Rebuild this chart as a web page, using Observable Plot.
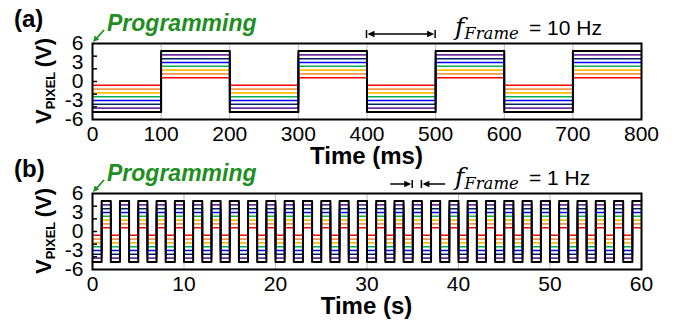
<!DOCTYPE html>
<html><head><meta charset="utf-8">
<script src="https://cdn.jsdelivr.net/npm/d3@7"></script>
<script src="https://cdn.jsdelivr.net/npm/@observablehq/plot@0.6"></script>
<style>
body{margin:0;background:#fff;}
#fig{position:relative;width:674px;height:328px;overflow:hidden;background:#fff;}
#fig svg{position:absolute;left:0;overflow:visible;background:transparent;}
</style></head><body><div id="fig"></div><script>
// Pixel voltage levels (V) and their colours (drawn as +/- pairs)
const levels = [0.6, 1.2, 1.8, 2.4, 3.0, 3.6, 4.2, 4.8];
const levelColors = ["#ff0000", "#f79646", "#ffc000", "#00b050", "#0000ff", "#002060", "#7030a0", "#000000"];

// Panel (a): 10 Hz frame, polarity switches (ms)
const switchTimesA = [0, 100, 200, 300, 400, 500, 600, 700, 800];
const polarityA = [-1, 1, -1, 1, -1, 1, -1, 1];
const xTicksA = [0, 100, 200, 300, 400, 500, 600, 700, 800];

// Panel (b): 1 Hz frame, polarity switches (s)
const switchTimesB = [0,1,2,3,4,5,6,7,8,9,10,11,12,13,14,15,16,17,18,19,20,21,22,23,24,25,26,27,28,29,30,
  31,32,33,34,35,36,37,38,39,40,41,42,43,44,45,46,47,48,49,50,51,52,53,54,55,56,57,58,59,60];
const polarityB = [-1,1,-1,1,-1,1,-1,1,-1,1,-1,1,-1,1,-1,1,-1,1,-1,1,-1,1,-1,1,-1,1,-1,1,-1,1,
  -1,1,-1,1,-1,1,-1,1,-1,1,-1,1,-1,1,-1,1,-1,1,-1,1,-1,1,-1,1,-1,1,-1,1,-1,1];
const xTicksB = [0, 10, 20, 30, 40, 50, 60];

const yTickLabels = [-6, -3, 0, 3, 6];
const yTickMarks = [-4, -2, 0, 2, 4];

// Frame-period annotations (data units)
const periodA = [400, 500];
const periodB = [35, 36];
const periodBTails = [32.6, 38.6];

const FONT = "'Liberation Sans', Arial, sans-serif";
const GREEN = "#1f8f1f";

function buildRows(times, pol) {
  const rows = [];
  levels.forEach((v, li) => {
    for (let k = 0; k < pol.length; k++) {
      rows.push({t: times[k], v: pol[k] * v, level: v, order: li});
      rows.push({t: times[k + 1], v: pol[k] * v, level: v, order: li});
    }
  });
  return rows;
}

function panel(times, pol, xDomain, xTicks, height, marginBottom) {
  const rows = buildRows(times, pol);
  const blackLevel = levels[levels.length - 1];
  return Plot.plot({
    width: 674, height,
    marginLeft: 92, marginRight: 33, marginTop: 43, marginBottom,
    x: {domain: xDomain},
    y: {domain: [-6, 6]},
    color: {domain: levels, range: levelColors},
    style: {fontFamily: FONT, background: "transparent", color: "black"},
    marks: [
      Plot.gridX(xTicks, {stroke: "#bdbdbd", strokeOpacity: 1, strokeWidth: 1}),
      Plot.line(rows.filter(d => d.level !== blackLevel), {x: "t", y: "v", z: "level", stroke: "level", strokeWidth: 1.6}),
      Plot.line(rows.filter(d => d.level === blackLevel), {x: "t", y: "v", z: "level", stroke: "black", strokeWidth: 2}),
      Plot.axisX({ticks: xTicks, tickSize: 0, tickPadding: 7, label: null, fontSize: 21, tickFormat: d => String(d)}),
      Plot.axisY({ticks: yTickLabels, tickSize: 0, tickPadding: 9, label: null, fontSize: 21, tickFormat: d => String(d)}),
      Plot.axisY({ticks: yTickMarks, tickSize: 5, dx: 5, tickFormat: () => "", label: null, strokeWidth: 1.5}),
      Plot.frame({stroke: "black", strokeWidth: 2})
    ]
  });
}

function arrowHead(g, x, y, dir, color, len = 7, half = 3) {
  const bx = x - Math.cos(dir) * len, by = y - Math.sin(dir) * len;
  const px = -Math.sin(dir) * half, py = Math.cos(dir) * half;
  g.append("path").attr("d", `M${x},${y}L${bx + px},${by + py}L${bx - px},${by - py}Z`).attr("fill", color);
}

function annotate(svg, opts) {
  const x = svg.scale("x"), y = svg.scale("y");
  const top = y.apply(6), bottom = y.apply(-6);
  const left = x.apply(opts.xDomain[0]), right = x.apply(opts.xDomain[1]);
  const g = d3.select(svg).append("g").attr("font-family", FONT).attr("text-anchor", "start");

  // panel letter
  g.append("text").attr("x", 14).attr("y", top - 16).attr("font-size", 24).attr("font-weight", "bold").text(opts.letter);

  // Programming label + arrow
  g.append("text").attr("x", 107).attr("y", top - 12).attr("font-size", 23).attr("font-weight", "bold")
    .attr("font-style", "italic").attr("fill", GREEN).text("Programming");
  g.append("line").attr("x1", left + 12).attr("y1", top - 13).attr("x2", left + 4).attr("y2", top - 4)
    .attr("stroke", GREEN).attr("stroke-width", 1.8);
  arrowHead(g, left + 1, top - 1, Math.atan2(9, -8), GREEN, 6, 3);

  // f_Frame = ... Hz
  const ft = g.append("text").attr("x", 455).attr("y", top - 8);
  ft.append("tspan").attr("font-family", "'DejaVu Serif', serif").attr("font-style", "italic").attr("font-size", 25).text("f");
  ft.append("tspan").attr("font-family", "'DejaVu Serif', serif").attr("font-style", "italic").attr("font-size", 16.5).attr("dy", 4).text("Frame");
  ft.append("tspan").attr("x", 529).attr("dy", -4).attr("font-size", 21).text(opts.freq);

  // period arrows
  const ay = top - 9;
  const p0 = x.apply(opts.period[0]), p1 = x.apply(opts.period[1]);
  [p0, p1].forEach(px => g.append("line").attr("x1", px).attr("x2", px).attr("y1", ay - 4).attr("y2", ay + 4)
    .attr("stroke", "black").attr("stroke-width", 1.5));
  if (opts.inward) {
    const t0 = x.apply(opts.tails[0]), t1 = x.apply(opts.tails[1]);
    g.append("line").attr("x1", t0).attr("x2", p0 - 3).attr("y1", ay).attr("y2", ay).attr("stroke", "black").attr("stroke-width", 1.5);
    arrowHead(g, p0 - 1, ay, 0, "black", 7, 3.2);
    g.append("line").attr("x1", t1).attr("x2", p1 + 3).attr("y1", ay).attr("y2", ay).attr("stroke", "black").attr("stroke-width", 1.5);
    arrowHead(g, p1 + 1, ay, Math.PI, "black", 7, 3.2);
  } else {
    g.append("line").attr("x1", p0 + 3).attr("x2", p1 - 3).attr("y1", ay).attr("y2", ay).attr("stroke", "black").attr("stroke-width", 1.5);
    arrowHead(g, p0 + 1, ay, Math.PI, "black", 7, 3.2);
    arrowHead(g, p1 - 1, ay, 0, "black", 7, 3.2);
  }

  // y-axis label V_PIXEL (V)
  const cy = (top + bottom) / 2;
  const yl = g.append("text").attr("transform", `translate(51,${cy}) rotate(-90)`).attr("text-anchor", "middle")
    .attr("font-weight", "bold");
  yl.append("tspan").attr("font-size", 22).text("V");
  yl.append("tspan").attr("font-size", 13).attr("dy", 4).text("PIXEL");
  yl.append("tspan").attr("font-size", 22).attr("dy", -4).text("\u2009(V)");

  // x-axis title
  g.append("text").attr("x", (left + right) / 2).attr("y", bottom + 45).attr("text-anchor", "middle")
    .attr("font-size", 24).attr("font-weight", "bold").text(opts.xTitle);
}

const fig = document.getElementById("fig");

const svgA = panel(switchTimesA, polarityA, [0, 800], xTicksA, 165, 46);
svgA.style.top = "0px";
fig.appendChild(svgA);
annotate(svgA, {xDomain: [0, 800], letter: "(a)", freq: "= 10 Hz", period: periodA, inward: false, xTitle: "Time (ms)"});

const svgB = panel(switchTimesB, polarityB, [0, 60], xTicksB, 178, 59);
svgB.style.top = "150px";
fig.appendChild(svgB);
annotate(svgB, {xDomain: [0, 60], letter: "(b)", freq: "= 1 Hz", period: periodB, tails: periodBTails, inward: true, xTitle: "Time (s)"});
</script></body></html>
